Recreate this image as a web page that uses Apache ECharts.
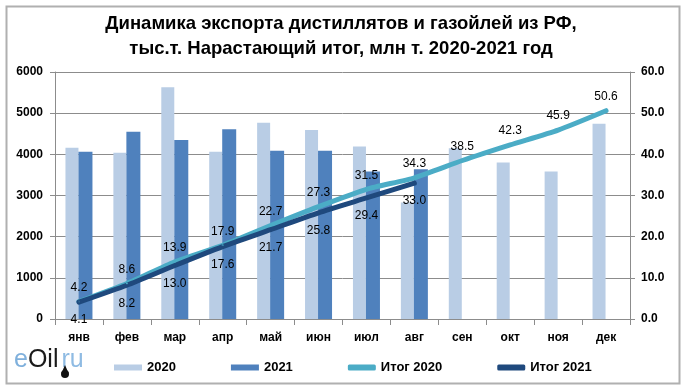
<!DOCTYPE html>
<html><head><meta charset="utf-8">
<script src="https://cdn.jsdelivr.net/npm/echarts@6/dist/echarts.min.js"></script>
<style>html,body{margin:0;padding:0;background:#fff}#c{width:682px;height:389px}</style>
</head><body><div id="c"></div>
<script>
const categories = ['янв','фев','мар','апр','май','июн','июл','авг','сен','окт','ноя','дек'];
const exp2020 = [4160, 4040, 5630, 4060, 4770, 4590, 4190, 2830, 4150, 3800, 3580, 4740];
const exp2021 = [4060, 4550, 4350, 4610, 4090, 4090, 3580, 3640];
const cum2020 = [4.2, 8.6, 13.9, 17.9, 22.7, 27.3, 31.5, 34.3, 38.5, 42.3, 45.9, 50.6];
const cum2021 = [4.1, 8.2, 13.0, 17.6, 21.7, 25.8, 29.4, 33.0];
const leftTicks = [0, 1000, 2000, 3000, 4000, 5000, 6000];
const rightTicks = [0, 10, 20, 30, 40, 50, 60];

const font = '"Liberation Sans", Arial, sans-serif';
const chart = echarts.init(document.getElementById('c'));
chart.setOption({
  animation: false,
  backgroundColor: '#fff',
  title: {
    text: 'Динамика экспорта дистиллятов и газойлей из РФ,\nтыс.т. Нарастающий итог, млн т. 2020-2021 год',
    left: 'center', top: 6,
    textStyle: { fontFamily: font, fontWeight: 'bold', fontSize: 18.5, lineHeight: 25, color: '#000' }
  },
  grid: { left: 55, right: 52, top: 72, bottom: 70 },
  legend: {
    top: 356, left: 109, itemGap: 55, itemWidth: 28, itemHeight: 6,
    textStyle: { fontFamily: font, fontSize: 13, color: '#000', fontWeight: 'bold' },
    data: [
      { name: '2020', icon: 'rect' },
      { name: '2021', icon: 'rect' },
      { name: 'Итог 2020', icon: 'roundRect' },
      { name: 'Итог 2021', icon: 'roundRect' }
    ]
  },
  xAxis: {
    type: 'category', data: categories,
    axisLine: { lineStyle: { color: '#8c8c8c' } },
    axisTick: { show: true, length: 6, lineStyle: { color: '#8c8c8c' } },
    axisLabel: { fontFamily: font, fontWeight: 'bold', fontSize: 12, color: '#000', margin: 13 }
  },
  yAxis: [
    { type: 'value', min: 0, max: 6000, interval: 1000,
      axisLine: { show: true, lineStyle: { color: '#8c8c8c' } },
      axisTick: { show: true, length: 5, lineStyle: { color: '#8c8c8c' } },
      splitLine: { lineStyle: { color: '#8c8c8c' } },
      axisLabel: { fontFamily: font, fontWeight: 'bold', fontSize: 12, color: '#000', margin: 12,
        formatter: v => String(v) } },
    { type: 'value', min: 0, max: 60, interval: 10,
      axisLine: { show: true, lineStyle: { color: '#8c8c8c' } },
      axisTick: { show: true, length: 5, lineStyle: { color: '#8c8c8c' } },
      splitLine: { show: false },
      axisLabel: { fontFamily: font, fontWeight: 'bold', fontSize: 12, color: '#000', margin: 11,
        formatter: v => v.toFixed(1) } }
  ],
  series: [
    { name: '2020', type: 'bar', data: exp2020, barWidth: 13, barGap: '0%',
      itemStyle: { color: '#b9cde5' } },
    { name: '2021', type: 'bar', data: exp2021, barWidth: 14, barGap: '0%',
      itemStyle: { color: '#4f81bd' } },
    { name: 'Итог 2020', type: 'line', yAxisIndex: 1, data: cum2020, smooth: 0.2,
      symbol: 'circle', symbolSize: 2, showSymbol: true,
      lineStyle: { width: 5, color: '#4bacc6', cap: 'round' }, itemStyle: { color: '#4bacc6' },
      label: { show: true, position: 'top', distance: 7, formatter: p => p.value.toFixed(1),
        fontFamily: font, fontSize: 12, color: '#000' } },
    { name: 'Итог 2021', type: 'line', yAxisIndex: 1, data: cum2021, smooth: 0.2,
      symbol: 'circle', symbolSize: 2, showSymbol: true,
      lineStyle: { width: 5, color: '#1f497d', cap: 'round' }, itemStyle: { color: '#1f497d' },
      label: { show: true, position: 'bottom', distance: 11, formatter: p => p.value.toFixed(1),
        fontFamily: font, fontSize: 12, color: '#000' } }
  ],
  graphic: [
    { type: 'rect', left: 4, top: 4, z: -1, silent: true,
      shape: { width: 673, height: 377 }, style: { fill: 'none', stroke: '#b0b0b0', lineWidth: 2 } },
    { type: 'text', left: 14, top: 348,
      style: { text: '{a|e}{b|Oil}{c|ru}', rich: {
        a: { fontFamily: font, fontSize: 25, fill: '#7fb0dc' },
        b: { fontFamily: font, fontSize: 25, fill: '#1a1a1a' },
        c: { fontFamily: font, fontSize: 25, fill: '#8fbbe3', padding: [0, 0, 0, 3] } } } },
    { type: 'polygon', silent: true,
      shape: { points: [[65, 365], [68.5, 373], [61.5, 373]] }, style: { fill: '#111' } },
    { type: 'circle', silent: true,
      shape: { cx: 65, cy: 374, r: 4 }, style: { fill: '#111' } }
  ]
});
</script></body></html>
